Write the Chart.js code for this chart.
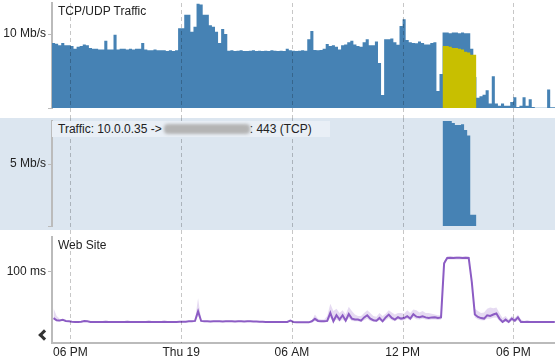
<!DOCTYPE html>
<html lang="en">
<head>
    <meta charset="utf-8" />
    <title>TCP/UDP Traffic and Web Site</title>
    <script src="https://cdn.jsdelivr.net/npm/chart.js"></script>
    <style>
        body {
            margin: 0;
            background: #fff;
            font-family: 'Liberation Sans', Arial, sans-serif;
        }

        #wrap {
            position: relative;
            width: 555px;
            height: 364px;
            overflow: hidden;
        }

        .panel {
            position: absolute;
            left: 0;
            width: 555px;
        }

        .panel canvas {
            position: absolute;
            left: 0;
            top: 0;
        }

        .title {
            position: absolute;
            left: 58px;
            font-size: 12px;
            line-height: 14px;
            color: #222;
            white-space: nowrap;
        }

        /* the light blue band behind the single flow */
        #flowPanel {
            background: #dce6f0;
        }

        .flowlabel {
            position: absolute;
            left: 52px;
            top: 3px;
            width: 278px;
            height: 16px;
            line-height: 16px;
            padding-left: 6px;
            box-sizing: border-box;
            background: #e9eff6;
            font-size: 12px;
            color: #222;
            white-space: nowrap;
        }

        .blur {
            display: inline-block;
            width: 86px;
            height: 10px;
            margin-left: 2px;
            vertical-align: -1px;
            background: #b4b4b4;
            border-radius: 4px;
            filter: blur(1.5px);
        }

        .chev {
            position: absolute;
            left: 40px;
            top: 101px;
            width: 5px;
            height: 5px;
            border-left: 3px solid #333;
            border-bottom: 3px solid #333;
            transform: rotate(45deg);
        }
    </style>
</head>

<body>
    <div id="wrap">
        <div class="panel" style="top:0;height:118px">
            <canvas id="trafficChart" width="555" height="118"></canvas>
            <div class="title" style="top:4px">TCP/UDP Traffic</div>
        </div>
        <div class="panel" id="flowPanel" style="top:118px;height:112px">
            <canvas id="flowChart" width="555" height="112"></canvas>
            <div class="flowlabel">Traffic: 10.0.0.35 -&gt;<span class="blur"></span>: 443 (TCP)</div>
        </div>
        <div class="panel" style="top:230px;height:134px">
            <canvas id="siteChart" width="555" height="134"></canvas>
            <div class="title" style="top:8px">Web Site</div>
            <div class="chev"></div>
        </div>
    </div>
    <script>
        const _ = null;

        // 10 minute bins, bin 0 starts at 17:00
        const binHours = 1 / 6;
        const spanHours = 27.26;
        const tickHours = [1, 7, 13, 19, 25];
        const tickLabels = ['06 PM', 'Thu 19', '06 AM', '12 PM', '06 PM'];

        const trafficTick = 10, trafficTickLabel = '10 Mb/s';
        const flowTick = 5, flowTickLabel = '5 Mb/s';
        const siteTick = 100, siteTickLabel = '100 ms';

        // total traffic, Mb/s
        const totalMbps = [
            10.4, 8.8, 8.7, 8.5, 8.8, 8.5, 8.5, 8.4, 8.0, 8.3,
            8.4, 8.6, 8.5, 8.1, 8.0, 8.0, 7.9, 7.9, 9.1, 7.9,
            7.9, 9.9, 7.9, 8.0, 8.0, 7.9, 8.0, 7.9, 8.0, 8.0,
            8.8, 7.9, 7.8, 7.8, 7.9, 7.8, 7.8, 7.8, 7.7, 7.8,
            7.7, 7.8, 10.8, 10.8, 12.6, 12.6, 10.3, 11.0, 14.1, 14.0,
            12.6, 12.6, 11.2, 11.0, 10.3, 8.8, 10.7, 10.0, 7.75, 7.8,
            7.7, 7.75, 7.8, 7.7, 7.7, 7.75, 7.8, 7.7, 7.75, 7.7,
            7.75, 7.7, 7.8, 7.75, 7.7, 7.75, 7.7, 8.0, 7.8, 7.75,
            7.7, 7.75, 7.8, 7.75, 9.3, 10.4, 7.85, 7.8, 7.85, 8.0,
            8.65, 8.4, 8.5, 8.3, 7.9, 8.5, 8.6, 8.9, 9.1, 8.6,
            8.4, 8.3, 8.9, 9.3, 8.5, 8.5, 9.0, 6.1, 1.75, 9.3,
            9.3, 9.4, 8.9, 8.55, 11.1, 12.0, 9.2, 8.9, 8.8, 8.75,
            9.0, 8.8, 8.6, 8.6, 8.8, 8.9, 2.3, 4.6, 10.2, 10.2,
            10.1, 10.2, 10.2, 10.1, 10.2, 10.1, 10.1, 8.0, 4.2, 1.4,
            1.6, 1.8, 2.4, 0.6, 4.3, 0.6, 0.3, 0.6, 0.3, 0.3,
            0.8, 1.45, 0.15, 0.3, 1.45, 0.3, 1.2, 0.15, 0.05, 0.05,
            0.05, 0.05, 2.5, 0.1
        ];

        // the selected flow, starting at bin 127
        const flowStart = 127;
        const flowTopMbps = [2.0, 8.4, 8.4, 8.3, 8.1, 8.1, 8.0, 7.9, 7.6, 7.5, 7.2];
        const flowMbps = [2.0, 8.5, 8.5, 8.5, 8.3, 8.15, 8.15, 8.2, 7.75, 7.3, 0.9];

        // web site response time, ms
        const latencyMs = [
            35, 32, 31.5, 32.5, 31, 30.5, 30, 29.6, 29.6, 30,
            31, 30.5, 29.6, 29.6, 29.5, 29.6, 29.6, 29.8, 29.6, 29.5,
            29.6, 29.6, 29.5, 29.6, 29.7, 29.6, 29.5, 29.6, 29.6, 29.5,
            29.6, 29.7, 29.6, 29.5, 29.6, 29.6, 29.7, 29.6, 29.5, 29.6,
            29.6, 29.8, 30, 30, 30.5, 30.5, 31, 44.6, 31, 30.5,
            30.5, 30.3, 30.5, 30.4, 30.5, 30.3, 30.5, 30.5, 30.4, 30.3,
            30.5, 30.4, 30.3, 30.5, 30.4, 30.3, 30.2, 30.0, 29.8, 29.6,
            29.6, 29.5, 29.6, 29.6, 29.6, 29.5, 29.6, 31.5, 29.6, 29.2,
            29, 29, 29.1, 29, 30.5, 34, 31, 30.5, 30.5, 31,
            42.3, 30.5, 39, 32.9, 39, 31.4, 40.8, 34.3, 33, 32.9,
            31.4, 36, 39, 34.3, 32, 31.4, 35.2, 30.5, 36, 39.9,
            35.2, 32.9, 36.2, 34.3, 35, 37.6, 34.3, 40.5, 37, 36.2,
            37.6, 36, 35.2, 36, 36.2, 35.2, 36, 112, 119.5, 119.7,
            119.5, 119.8, 119.7, 119.6, 119.7, 119.5, 86, 40, 36.6, 35,
            34.3, 39, 38, 40, 41.5, 34.3, 29.6, 32.9, 29.6, 34.3,
            31.4, 36, 29.6, 29.6, 30, 29.6, 29.6, 29.5, 29.6, 29.6,
            29.5, 29.6, 29.6, 29.5
        ];

        // min / max band around the response time
        const latencyHigh = [
            49, 38, 34, _, _, _, _, _, _, _,
            _, _, _, _, _, _, _, _, _, _,
            _, _, _, _, _, _, _, _, _, _,
            _, _, _, _, _, _, _, _, _, _,
            _, _, _, _, _, _, 33, 63, 33, _,
            _, _, _, _, _, _, _, _, _, _,
            _, _, _, _, _, _, _, _, _, _,
            _, _, _, _, _, _, _, _, _, _,
            _, _, _, _, 32, 40, 34, 33, 33, 38,
            55, 45, 48, 42, 46, 40, 51, 45, 40, 38,
            38, 42, 46, 42, 38, 37, 42, 38, 41, 46,
            43, 40, 42, 42, 41, 46, 42, 47, 46, 43,
            45, 42, 42, 41, 40, 39, 39, 115, 121.5, 121.5,
            121.5, 121.5, 121.5, 121.5, 121.5, 121.5, 90, 48, 45, 42,
            43, 48, 50, 49, 50, 42, 35, 38, 33, 38,
            35, 40, 33, 31, _, _, _, _, _, _,
            _, _, _, _
        ];
        const latencyLow = [
            33, 30.5, 30, _, _, _, _, _, _, _,
            _, _, _, _, _, _, _, _, _, _,
            _, _, _, _, _, _, _, _, _, _,
            _, _, _, _, _, _, _, _, _, _,
            _, _, _, _, _, _, 30, 38, 30, _,
            _, _, _, _, _, _, _, _, _, _,
            _, _, _, _, _, _, _, _, _, _,
            _, _, _, _, _, _, _, _, _, _,
            _, _, _, _, 29, 31, 29.5, 29, 29, 29.5,
            36, 29, 33, 30, 33, 29.5, 35, 31, 30.5, 30.5,
            29.5, 32, 34, 31, 30, 29.5, 32, 29, 32, 35,
            32, 30.5, 33, 31.5, 32, 34, 31.5, 36, 33.5, 33,
            34, 33, 32.5, 33, 33, 32.5, 33, 108, 117.5, 117.5,
            117.5, 117.5, 117.5, 117.5, 117.5, 117.5, 82, 36, 33, 32,
            31.5, 34, 34, 35.5, 36, 31, 28.5, 30, 28.5, 31,
            29.5, 32, 28.5, 29, _, _, _, _, _, _,
            _, _, _, _
        ];

        const blue = '#4682b4';
        const yellow = '#c8bf00';
        const purple = '#8c5cc4';

        Chart.defaults.font.family = "'Liberation Sans', Arial, sans-serif";
        Chart.defaults.font.size = 12;
        Chart.defaults.color = '#222';

        // bin index -> point at the middle of the bin
        function pts(values, start = 0) {
            return values.map((v, i) => ({ x: (start + i + 0.5) * binHours, y: v }));
        }

        // bins as a filled step outline (no seams between neighbouring bins):
        // one point per bin start, plus the closing edge of the last bin
        function stepPts(values, start = 0) {
            const p = values.map((v, i) => ({ x: (start + i) * binHours, y: v }));
            p.push({ x: (start + values.length) * binHours, y: values[values.length - 1] });
            return p;
        }

        function stepSeries(values, start, color) {
            return {
                data: stepPts(values, start),
                stepped: 'after',
                fill: 'origin',
                backgroundColor: color,
                borderColor: 'transparent',
                borderWidth: 0,
                pointRadius: 0
            };
        }

        // dashed time lines, drawn over the marks
        const dashGrid = {
            id: 'dashGrid',
            afterDatasetsDraw(chart, args, opts) {
                const ctx = chart.ctx;
                const x = chart.scales.x;
                const bottom = opts.toArea ? chart.chartArea.bottom : chart.height;
                ctx.save();
                ctx.strokeStyle = 'rgba(0,0,0,0.22)';
                ctx.lineWidth = 1;
                ctx.setLineDash([4, 3]);
                tickHours.forEach(h => {
                    const px = Math.round(x.getPixelForValue(h)) + 0.5;
                    ctx.beginPath();
                    ctx.moveTo(px, opts.top);
                    ctx.lineTo(px, bottom);
                    ctx.stroke();
                });
                ctx.restore();
            }
        };

        function yAxis(max, ticks, tickValue, label) {
            return {
                min: 0,
                max: max,
                afterBuildTicks: s => { s.ticks = ticks.map(v => ({ value: v })); },
                afterFit: s => { s.width = 52; s.paddingTop = 0; s.paddingBottom = 0; },
                ticks: { callback: v => (v === tickValue ? label : ''), padding: 2 },
                grid: { drawOnChartArea: false, tickLength: 4, color: '#bbb' },
                border: { color: '#bbb', width: 2 }
            };
        }

        const hiddenX = { type: 'linear', min: 0, max: spanHours, offset: false, display: false };

        function baseOptions(padding, grid) {
            return {
                responsive: false,
                animation: false,
                events: [],
                layout: { padding: padding },
                plugins: {
                    legend: { display: false },
                    tooltip: { enabled: false },
                    dashGrid: grid
                }
            };
        }

        // top panel: all traffic, with the selected flow in front
        new Chart(document.getElementById('trafficChart'), {
            type: 'line',
            data: {
                datasets: [
                    stepSeries(flowTopMbps, flowStart, yellow),
                    stepSeries(totalMbps, 0, blue)
                ]
            },
            options: {
                ...baseOptions({ top: 3, bottom: 10, left: 0, right: 0 }, { top: 3, toArea: false }),
                scales: { x: hiddenX, y: yAxis(14.2, [0, trafficTick], trafficTick, trafficTickLabel) }
            },
            plugins: [dashGrid]
        });

        // middle panel: the one flow
        new Chart(document.getElementById('flowChart'), {
            type: 'line',
            data: {
                datasets: [stepSeries(flowMbps, flowStart, blue)]
            },
            options: {
                ...baseOptions({ top: 3, bottom: 4, left: 0, right: 0 }, { top: 0, toArea: false }),
                scales: { x: hiddenX, y: yAxis(8.47, [0, flowTick], flowTick, flowTickLabel) }
            },
            plugins: [dashGrid]
        });

        // bottom panel: web site response time
        new Chart(document.getElementById('siteChart'), {
            type: 'line',
            data: {
                datasets: [
                    { data: pts(latencyMs), borderColor: purple, borderWidth: 2, pointRadius: 0, tension: 0, fill: false },
                    { data: pts(latencyHigh), borderWidth: 0, borderColor: 'transparent', pointRadius: 0, tension: 0, fill: '+1', backgroundColor: 'rgba(140,92,196,0.22)' },
                    { data: pts(latencyLow), borderWidth: 0, borderColor: 'transparent', pointRadius: 0, tension: 0, fill: false }
                ]
            },
            options: {
                ...baseOptions({ top: 7, bottom: 0, left: 0, right: 0 }, { top: 0, toArea: true }),
                scales: {
                    x: {
                        type: 'linear',
                        min: 0,
                        max: spanHours,
                        offset: false,
                        afterBuildTicks: s => { s.ticks = tickHours.map(h => ({ value: h })); },
                        afterFit: s => { s.height = 21; s.paddingLeft = 0; s.paddingRight = 0; },
                        ticks: { autoSkip: false, maxRotation: 0, padding: 2, callback: (v, i) => tickLabels[i] },
                        grid: { drawOnChartArea: false, drawTicks: false },
                        border: { color: '#bbb', width: 2 }
                    },
                    y: yAxis(149, [siteTick], siteTick, siteTickLabel)
                }
            },
            plugins: [dashGrid]
        });
    </script>
</body>

</html>
